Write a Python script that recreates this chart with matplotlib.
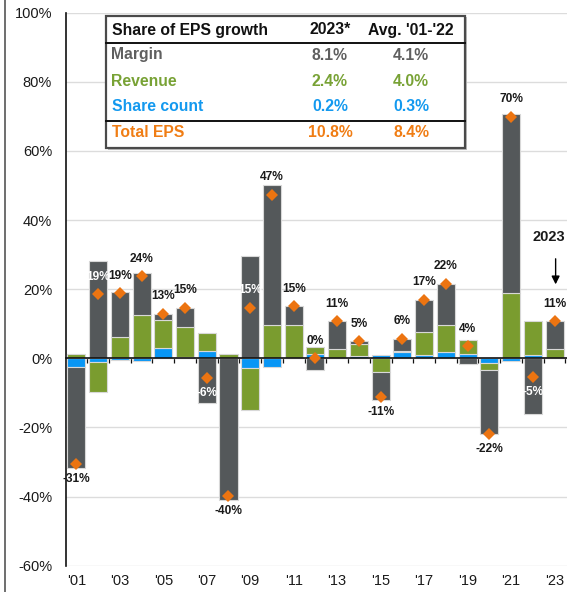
import matplotlib
matplotlib.use("Agg")
import matplotlib.pyplot as plt
import numpy as np
from matplotlib.patches import Rectangle
from matplotlib.lines import Line2D

plt.rcParams['font.family'] = ['Liberation Sans', 'DejaVu Sans']

years = list(range(2001, 2024))
share_count = [-2.4, -1.1, -0.4, -0.8, 3.1, 0.5, 2.1, 0.2, -2.7, -2.4, 0.0, 1.2, 0.2,
               0.6, 0.9, 1.8, 1.0, 1.8, 1.2, -1.3, -0.8, 0.9, 0.2]
revenue = [1.2, -8.6, 6.2, 12.6, 7.9, 8.7, 5.1, 1.0, -12.2, 9.5, 9.5, 2.2, 2.4,
           3.5, -4.1, 0.3, 6.5, 7.7, 4.0, -2.1, 19.0, 9.8, 2.4]
margin = [-29.4, 28.3, 13.1, 12.0, 1.9, 5.5, -13.0, -41.1, 29.6, 40.6, 5.6, -3.4, 8.1,
          0.9, -8.1, 3.6, 9.5, 12.1, -1.7, -18.5, 51.7, -16.2, 8.1]
total_eps = [-30.6, 18.6, 18.9, 23.8, 12.9, 14.7, -5.8, -39.9, 14.7, 47.3, 15.1, 0.0, 10.7,
             5.0, -11.3, 5.7, 17.0, 21.6, 3.5, -21.9, 69.9, -5.5, 10.8]
total_labels = ['-31%', '19%', '19%', '24%', '13%', '15%', '-6%', '-40%', '15%', '47%', '15%',
                '0%', '11%', '5%', '-11%', '6%', '17%', '22%', '4%', '-22%', '70%', '-5%', '11%']
white_label_years = [2002, 2007, 2009, 2022]
xtick_labels = ["'01", "'03", "'05", "'07", "'09", "'11", "'13", "'15", "'17", "'19", "'21", "'23"]
yticks = [100, 80, 60, 40, 20, 0, -20, -40, -60]

table_header = ['Share of EPS growth', '2023*', "Avg. '01-'22"]
table_rows = ['Margin', 'Revenue', 'Share count', 'Total EPS']
table_2023 = ['8.1%', '2.4%', '0.2%', '10.8%']
table_avg = ['4.1%', '4.0%', '0.3%', '8.4%']

C_GRAY = '#54585a'
C_GREEN = '#7a9c2f'
C_BLUE = '#0896f5'
C_ORANGE = '#ec7411'
T_GRAY = '#5f5f5f'
T_GREEN = '#78a235'
T_BLUE = '#1399ef'
T_ORANGE = '#f07d14'

W, H = 567, 592
fig = plt.figure(figsize=(W / 100, H / 100), dpi=100)
ax_left, ax_right, ax_top, ax_bot = 66, 566.5, 12.7, 565.7
ax = fig.add_axes([ax_left / W, 1 - ax_bot / H, (ax_right - ax_left) / W, (ax_bot - ax_top) / H])

x = np.arange(len(years))
pos_bottom = np.zeros(len(years))
neg_bottom = np.zeros(len(years))
for vals, col in [(share_count, C_BLUE), (revenue, C_GREEN), (margin, C_GRAY)]:
    v = np.array(vals)
    bottoms = np.where(v >= 0, pos_bottom, neg_bottom)
    ax.bar(x, v, bottom=bottoms, width=0.83, color=col, edgecolor='#d8d8d8',
           linewidth=0.8, zorder=3)
    pos_bottom = pos_bottom + np.where(v > 0, v, 0)
    neg_bottom = neg_bottom + np.where(v < 0, v, 0)

ax.plot(x, total_eps, linestyle='none', marker='D', markersize=6.5, color=C_ORANGE,
        markeredgewidth=0, zorder=5)

for i, (t, lbl) in enumerate(zip(total_eps, total_labels)):
    col = 'white' if years[i] in white_label_years else '#1a1a1a'
    off = 12.5 if t >= 0 else -10.5
    ax.annotate(lbl, (x[i], t), xytext=(0, off), textcoords='offset points',
                ha='center', va='center', fontsize=8.6, fontweight='bold', color=col, zorder=6)

ax.set_xlim(-0.475, 22.55)
ax.set_ylim(-60, 100)
ax.set_yticks(yticks)
ax.set_yticklabels([f'{v}%' for v in yticks], fontsize=10.5, color='#1a1a1a')
ax.tick_params(axis='y', length=0, pad=10)
ax.grid(axis='y', color='#dcdcdc', linewidth=1, zorder=0)
ax.set_axisbelow(True)

for s in ['top', 'right']:
    ax.spines[s].set_visible(False)
ax.spines['left'].set_color('#111111')
ax.spines['left'].set_linewidth(1.2)
ax.spines['bottom'].set_position(('data', 0))
ax.spines['bottom'].set_color('#111111')
ax.spines['bottom'].set_linewidth(1.2)
ax.spines['bottom'].set_zorder(4)
ax.set_xticks(np.arange(len(years)) + 0.5)
ax.set_xticklabels([])
ax.tick_params(axis='x', length=3.5, width=0.9, direction='out', color='#111111')

for j, lbl in enumerate(xtick_labels):
    ax.annotate(lbl, (2 * j, -60), xytext=(0, -11), textcoords='offset points',
                ha='center', va='center', fontsize=10.5, color='#1a1a1a', annotation_clip=False)


def fx(px):
    return px / W


def fy(py):
    return 1 - py / H


# 2023 annotation
ax.annotate('', xy=(22.05, 20.6), xytext=(22.05, 29.6),
            arrowprops=dict(arrowstyle='-|>', color='black', lw=1, mutation_scale=12), zorder=6)
fig.text(fx(565), fy(237), '2023', ha='right', va='center', fontsize=10.5, fontweight='bold',
         color='#1a1a1a', zorder=6)

# left frame line of figure
fig.add_artist(Line2D([5 / W, 5 / W], [0, 1], color='#555555', lw=1.2))

# table
tl, tr, tt, tb = 106, 465, 15.7, 148
fig.add_artist(Rectangle((fx(tl + 1.5), fy(tb + 1.5)), fx(tr - tl), (tb - tt) / H,
                         facecolor='#bdbdbd', edgecolor='none', zorder=9))
fig.add_artist(Rectangle((fx(tl), fy(tb)), fx(tr - tl), (tb - tt) / H,
                         facecolor='white', edgecolor='#4a4a4a', lw=1.6, zorder=10))
for ly in [42.7, 121]:
    fig.add_artist(Line2D([fx(tl), fx(tr)], [fy(ly), fy(ly)], color='#111111', lw=1.4, zorder=11))

col_x = [111.5, 330, 411]
header_y = 30
row_y = [55, 81, 106.7, 132.7]
row_cols = [T_GRAY, T_GREEN, T_BLUE, T_ORANGE]
FS = 11.3
fig.text(fx(col_x[0]), fy(header_y), table_header[0], ha='left', va='center', fontsize=FS,
         fontweight='bold', color='#111111', zorder=12)
fig.text(fx(col_x[1]), fy(header_y), table_header[1], ha='center', va='center', fontsize=FS,
         fontweight='bold', color='#111111', zorder=12)
fig.text(fx(col_x[2]), fy(header_y), table_header[2], ha='center', va='center', fontsize=FS,
         fontweight='bold', color='#111111', zorder=12)
for r, yy, c, v1, v2 in zip(table_rows, row_y, row_cols, table_2023, table_avg):
    fig.text(fx(col_x[0]), fy(yy), r, ha='left', va='center', fontsize=FS,
             fontweight='bold', color=c, zorder=12)
    fig.text(fx(col_x[1]), fy(yy), v1, ha='center', va='center', fontsize=FS,
             fontweight='bold', color=c, zorder=12)
    fig.text(fx(col_x[2]), fy(yy), v2, ha='center', va='center', fontsize=FS,
             fontweight='bold', color=c, zorder=12)

fig.savefig('out.png', dpi=100)
